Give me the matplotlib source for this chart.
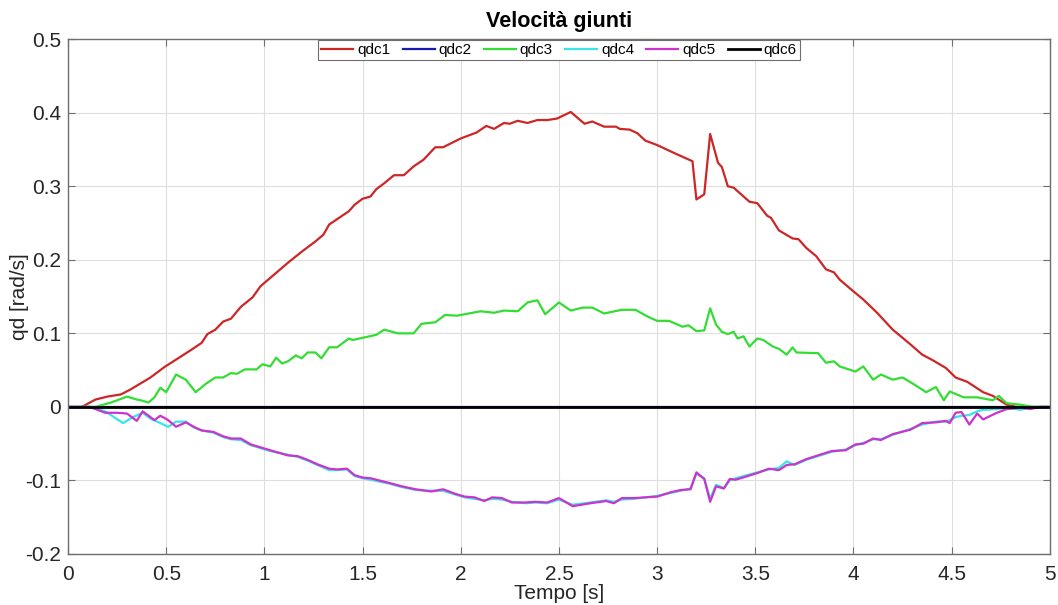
import matplotlib
matplotlib.use('Agg')
import matplotlib.pyplot as plt
import numpy as np

plt.rcParams['font.family'] = ['Liberation Sans', 'DejaVu Sans']

# velocita' giunto 1 [rad/s]
t_qdc1 = [0, 0.07, 0.14, 0.20, 0.27, 0.32, 0.37, 0.42, 0.49, 0.56, 0.63, 0.68,
          0.71, 0.75, 0.79, 0.83, 0.88, 0.94, 0.98, 1.05, 1.12, 1.19, 1.26, 1.30,
          1.33, 1.38, 1.43, 1.46, 1.50, 1.54, 1.57, 1.61, 1.66, 1.71, 1.76, 1.81,
          1.87, 1.91, 2.00, 2.08, 2.13, 2.17, 2.22, 2.25, 2.29, 2.34, 2.39, 2.44,
          2.49, 2.56, 2.63, 2.67, 2.73, 2.79, 2.81, 2.86, 2.90, 2.94, 3.00, 3.08,
          3.13, 3.18, 3.20, 3.24, 3.27, 3.31, 3.33, 3.36, 3.39, 3.47, 3.51, 3.56,
          3.58, 3.62, 3.69, 3.72, 3.76, 3.81, 3.86, 3.90, 3.93, 4.00, 4.05, 4.12,
          4.20, 4.29, 4.35, 4.40, 4.47, 4.52, 4.58, 4.66, 4.71, 4.78, 4.83, 5.0]
qdc1 = [0, 0, 0.010, 0.014, 0.017, 0.024, 0.032, 0.040, 0.054, 0.066, 0.078, 0.087,
        0.099, 0.105, 0.116, 0.120, 0.136, 0.149, 0.164, 0.180, 0.196, 0.211, 0.225, 0.234,
        0.248, 0.257, 0.266, 0.275, 0.283, 0.286, 0.296, 0.304, 0.315, 0.315, 0.327, 0.336,
        0.353, 0.353, 0.365, 0.373, 0.382, 0.378, 0.386, 0.385, 0.389, 0.386, 0.390, 0.390,
        0.392, 0.401, 0.385, 0.388, 0.381, 0.381, 0.378, 0.377, 0.372, 0.362, 0.356, 0.346,
        0.340, 0.334, 0.282, 0.289, 0.371, 0.332, 0.326, 0.300, 0.298, 0.279, 0.277, 0.260,
        0.257, 0.240, 0.229, 0.228, 0.216, 0.205, 0.187, 0.183, 0.173, 0.157, 0.146, 0.128,
        0.105, 0.085, 0.071, 0.064, 0.053, 0.040, 0.034, 0.020, 0.015, 0.003, 0.0, 0.0]

# velocita' giunto 3 [rad/s]
t_qdc3 = [0, 0.14, 0.22, 0.30, 0.35, 0.37, 0.41, 0.44, 0.47, 0.50, 0.55, 0.60,
          0.65, 0.70, 0.75, 0.79, 0.83, 0.86, 0.90, 0.96, 0.99, 1.03, 1.06, 1.09,
          1.12, 1.16, 1.19, 1.22, 1.26, 1.29, 1.33, 1.37, 1.43, 1.45, 1.57, 1.61,
          1.68, 1.76, 1.80, 1.87, 1.92, 1.98, 2.10, 2.17, 2.22, 2.29, 2.34, 2.39,
          2.43, 2.50, 2.56, 2.62, 2.67, 2.73, 2.82, 2.89, 2.95, 3.00, 3.06, 3.13,
          3.16, 3.20, 3.24, 3.27, 3.30, 3.33, 3.36, 3.39, 3.41, 3.44, 3.47, 3.51,
          3.54, 3.59, 3.62, 3.66, 3.69, 3.71, 3.82, 3.86, 3.90, 3.93, 4.01, 4.05,
          4.10, 4.14, 4.20, 4.25, 4.30, 4.37, 4.42, 4.46, 4.49, 4.56, 4.63, 4.71,
          4.74, 4.78, 4.85, 4.91, 5.0]
qdc3 = [0, 0, 0.006, 0.014, 0.010, 0.009, 0.006, 0.013, 0.026, 0.020, 0.044, 0.037,
        0.020, 0.031, 0.040, 0.040, 0.046, 0.045, 0.051, 0.051, 0.058, 0.055, 0.067, 0.059,
        0.062, 0.070, 0.066, 0.074, 0.074, 0.066, 0.081, 0.081, 0.093, 0.091, 0.098, 0.105,
        0.100, 0.100, 0.113, 0.115, 0.125, 0.124, 0.130, 0.128, 0.131, 0.130, 0.142, 0.145,
        0.126, 0.142, 0.131, 0.135, 0.135, 0.127, 0.132, 0.132, 0.123, 0.117, 0.117, 0.109,
        0.111, 0.103, 0.104, 0.134, 0.112, 0.102, 0.099, 0.102, 0.093, 0.096, 0.082, 0.093,
        0.091, 0.082, 0.079, 0.071, 0.081, 0.074, 0.073, 0.060, 0.062, 0.055, 0.048, 0.055,
        0.037, 0.044, 0.037, 0.040, 0.032, 0.020, 0.027, 0.009, 0.021, 0.013, 0.013, 0.009,
        0.015, 0.005, 0.003, 0.0, 0.0]

# velocita' giunto 4 [rad/s]
t_qdc4 = [0, 0.11, 0.19, 0.24, 0.28, 0.33, 0.38, 0.42, 0.47, 0.51, 0.55, 0.60,
          0.64, 0.68, 0.74, 0.79, 0.83, 0.88, 0.93, 0.98, 1.03, 1.12, 1.17, 1.22,
          1.27, 1.33, 1.37, 1.42, 1.46, 1.50, 1.54, 1.63, 1.70, 1.77, 1.85, 1.91,
          1.97, 2.02, 2.07, 2.12, 2.16, 2.21, 2.26, 2.33, 2.38, 2.44, 2.50, 2.57,
          2.66, 2.74, 2.78, 2.82, 2.88, 3.00, 3.07, 3.12, 3.17, 3.20, 3.24, 3.27,
          3.30, 3.34, 3.37, 3.40, 3.51, 3.57, 3.62, 3.66, 3.70, 3.76, 3.83, 3.89,
          3.96, 4.01, 4.05, 4.10, 4.14, 4.20, 4.29, 4.35, 4.42, 4.47, 4.49, 4.52,
          4.55, 4.59, 4.63, 4.66, 4.73, 4.78, 4.85, 4.90, 4.95, 5.0]
qdc4 = [0, 0, -0.006, -0.015, -0.022, -0.014, -0.008, -0.016, -0.022, -0.027, -0.020, -0.020,
        -0.028, -0.032, -0.035, -0.041, -0.044, -0.045, -0.052, -0.056, -0.060, -0.065, -0.068, -0.073,
        -0.079, -0.086, -0.086, -0.085, -0.094, -0.097, -0.099, -0.104, -0.109, -0.113, -0.114, -0.114,
        -0.119, -0.123, -0.125, -0.127, -0.125, -0.126, -0.129, -0.131, -0.130, -0.131, -0.126, -0.133,
        -0.130, -0.127, -0.129, -0.126, -0.125, -0.121, -0.117, -0.114, -0.111, -0.091, -0.097, -0.125,
        -0.106, -0.110, -0.100, -0.097, -0.089, -0.085, -0.083, -0.074, -0.079, -0.072, -0.066, -0.061,
        -0.058, -0.052, -0.049, -0.044, -0.044, -0.038, -0.030, -0.024, -0.020, -0.020, -0.018, -0.014,
        -0.012, -0.011, -0.006, -0.004, -0.003, -0.001, -0.004, -0.001, 0.0, 0.0]

# velocita' giunto 5 [rad/s]
t_qdc5 = [0, 0.11, 0.19, 0.25, 0.30, 0.35, 0.38, 0.44, 0.47, 0.51, 0.55, 0.60,
          0.64, 0.68, 0.74, 0.79, 0.83, 0.88, 0.93, 0.98, 1.03, 1.12, 1.17, 1.22,
          1.27, 1.33, 1.37, 1.42, 1.46, 1.50, 1.54, 1.63, 1.70, 1.77, 1.85, 1.91,
          1.97, 2.02, 2.07, 2.12, 2.16, 2.21, 2.26, 2.33, 2.38, 2.44, 2.50, 2.57,
          2.66, 2.74, 2.78, 2.82, 2.88, 3.00, 3.07, 3.12, 3.17, 3.20, 3.24, 3.27,
          3.30, 3.34, 3.37, 3.40, 3.51, 3.57, 3.62, 3.66, 3.70, 3.76, 3.83, 3.89,
          3.96, 4.01, 4.05, 4.10, 4.14, 4.20, 4.29, 4.35, 4.42, 4.47, 4.49, 4.52,
          4.55, 4.59, 4.63, 4.66, 4.73, 4.78, 4.85, 4.90, 4.95, 5.0]
qdc5 = [0, 0, -0.008, -0.008, -0.009, -0.019, -0.006, -0.018, -0.012, -0.018, -0.027, -0.021,
        -0.027, -0.032, -0.034, -0.040, -0.043, -0.043, -0.051, -0.055, -0.059, -0.066, -0.067, -0.072,
        -0.078, -0.084, -0.085, -0.084, -0.093, -0.096, -0.097, -0.103, -0.108, -0.112, -0.115, -0.112,
        -0.118, -0.122, -0.123, -0.128, -0.123, -0.124, -0.130, -0.130, -0.129, -0.130, -0.124, -0.135,
        -0.131, -0.128, -0.131, -0.124, -0.124, -0.122, -0.116, -0.113, -0.112, -0.089, -0.098, -0.129,
        -0.108, -0.111, -0.098, -0.099, -0.090, -0.084, -0.086, -0.079, -0.078, -0.071, -0.065, -0.060,
        -0.059, -0.051, -0.050, -0.043, -0.045, -0.037, -0.031, -0.022, -0.021, -0.019, -0.022, -0.008,
        -0.007, -0.024, -0.009, -0.017, -0.008, -0.003, -0.001, -0.003, 0.0, 0.0]

# giunti 2 e 6 fermi
t_fermi = [0, 5.0]
qdc2 = [0.0, 0.0]
qdc6 = [0.0, 0.0]

fig = plt.figure(figsize=(10.58, 6.05), dpi=100)
ax = fig.add_axes([0.0643, 0.0843, 0.928, 0.851])

lw = 1.6
ax.plot(t_qdc1, qdc1, color='#CD2626', lw=lw, label='qdc1')
ax.plot(t_fermi, qdc2, color='#1A1AB0', lw=lw, label='qdc2')
ax.plot(t_qdc3, qdc3, color='#33DD33', lw=lw, label='qdc3')
ax.plot(t_qdc4, qdc4, color='#38E6E6', lw=lw, label='qdc4')
ax.plot(t_qdc5, qdc5, color='#CC33CC', lw=lw, label='qdc5')
ax.plot(t_fermi, qdc6, color='black', lw=2.0, label='qdc6')

ax.set_xlim(0, 5)
ax.set_ylim(-0.2, 0.5)
ax.set_xticks(np.arange(0, 5.01, 0.5))
ax.set_xticklabels(['0', '0.5', '1', '1.5', '2', '2.5', '3', '3.5', '4', '4.5', '5'])
ax.set_yticks(np.arange(-0.2, 0.51, 0.1))
ax.set_yticklabels(['-0.2', '-0.1', '0', '0.1', '0.2', '0.3', '0.4', '0.5'])

ax.grid(True, color='#DEDEDE', lw=0.8)
ax.set_axisbelow(True)
for s in ax.spines.values():
    s.set_color('#6E6E6E')
    s.set_linewidth(1.0)
ax.tick_params(direction='in', length=5, width=0.8, color='#6E6E6E',
               top=True, right=True, labelsize=15, labelcolor='#262626')
ax.tick_params(axis='x', pad=8)
ax.tick_params(axis='y', pad=5)

ax.set_title('Velocità giunti', fontsize=15.5, fontweight='bold', color='black', pad=9)
ax.set_xlabel('Tempo [s]', fontsize=15, color='#262626', labelpad=0)
ax.set_ylabel('qd [rad/s]', fontsize=15, color='#262626', labelpad=-3)

leg = ax.legend(loc='upper center', ncol=6, fontsize=11, frameon=True,
                fancybox=False, framealpha=1, edgecolor='#6E6E6E',
                handlelength=2.1, handletextpad=0.25, columnspacing=0.8,
                borderpad=0.2, borderaxespad=0.05)
leg.get_frame().set_linewidth(0.8)

fig.savefig('out.png', dpi=100, facecolor='white')
plt.close(fig)
